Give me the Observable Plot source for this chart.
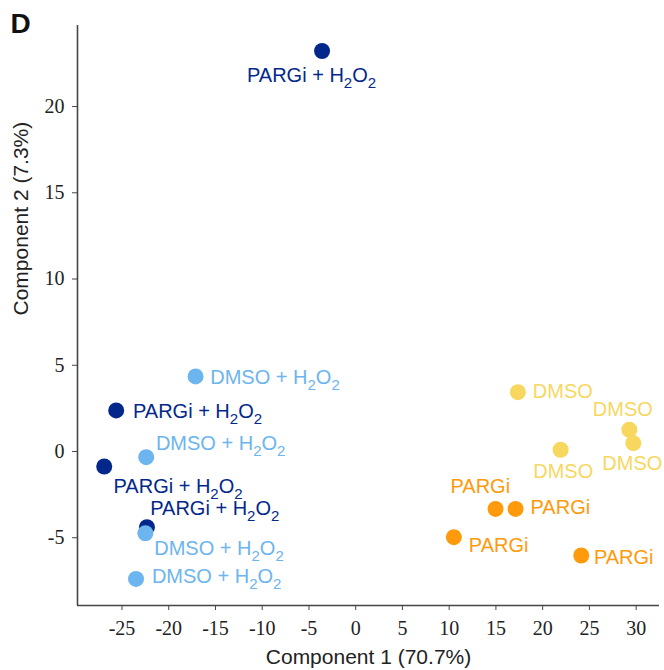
<!DOCTYPE html>
<html>
<head>
<meta charset="utf-8">
<script src="https://cdn.jsdelivr.net/npm/d3@7"></script>
<script src="https://cdn.jsdelivr.net/npm/@observablehq/plot@0.6"></script>
<style>
  html, body { margin: 0; padding: 0; background: #fff; }
  #chart svg { display: block; }
</style>
</head>
<body>
<div id="chart"></div>
<script>
// ---- data ----
const groupNames = ["PARGi + H2O2", "DMSO + H2O2", "DMSO", "PARGi"];
const groupColors = ["#03288A", "#6CB5EE", "#F8D75F", "#FF9A0C"];

const sampleGroup = [
  "PARGi + H2O2", "PARGi + H2O2", "PARGi + H2O2", "PARGi + H2O2",
  "DMSO + H2O2", "DMSO + H2O2", "DMSO + H2O2", "DMSO + H2O2",
  "DMSO", "DMSO", "DMSO", "DMSO",
  "PARGi", "PARGi", "PARGi", "PARGi"
];
const pc1 = [-3.6, -25.62, -26.9, -22.33, -17.13, -22.41, -22.5, -23.5, 17.35, 29.27, 21.92, 29.7, 14.96, 17.1, 10.5, 24.13];
const pc2 = [23.22, 2.38, -0.87, -4.39, 4.35, -0.33, -4.74, -7.39, 3.44, 1.26, 0.1, 0.48, -3.33, -3.33, -4.97, -6.03];
// repelled label anchors (data units)
const labelPc1 = [-11.63, -23.83, -25.91, -21.98, -15.56, -21.37, -21.55, -21.80, 18.95, 25.37, 18.99, 26.38, 10.14, 18.70, 12.10, 25.48];
const labelPc2 = [21.81, 2.33, -2.06, -3.32, 4.27, 0.45, -5.64, -7.27, 3.45, 2.41, -1.19, -0.71, -2.01, -3.23, -5.45, -6.13];

const xDomain = [-29.76, 32.5];
const yDomain = [-8.93, 24.7];
const xTicks = [-25, -20, -15, -10, -5, 0, 5, 10, 15, 20, 25, 30];
const yTicks = [-5, 0, 5, 10, 15, 20];
const xTitle = "Component 1 (70.7%)";
const yTitle = "Component 2 (7.3%)";
const panelLetter = "D";

const rows = sampleGroup.map((g, i) => ({group: g, x: pc1[i], y: pc2[i], lx: labelPc1[i], ly: labelPc2[i]}));

const axisColor = "#454545";
const serif = "Liberation Serif";

const plot = Plot.plot({
  width: 664,
  height: 670,
  marginLeft: 77,
  marginRight: 5,
  marginTop: 25,
  marginBottom: 65,
  style: {fontFamily: "Liberation Sans", background: "#fff"},
  x: {domain: xDomain},
  y: {domain: yDomain},
  color: {domain: groupNames, range: groupColors},
  marks: [
    Plot.axisX(xTicks, {tickSize: 5, tickPadding: 10, fontSize: 20, fontFamily: serif,
      tickFormat: d => String(d), stroke: axisColor, fill: "#222", label: null}),
    Plot.axisY(yTicks, {tickSize: 5, tickPadding: 8, fontSize: 20, fontFamily: serif,
      tickFormat: d => String(d), stroke: axisColor, fill: "#222", label: null}),
    Plot.ruleX([xDomain[0]], {stroke: axisColor, strokeWidth: 1.6}),
    Plot.ruleY([yDomain[0]], {stroke: axisColor, strokeWidth: 1.6}),
    Plot.dot(rows, {x: "x", y: "y", r: 8, fill: "group", stroke: "none"}),
    Plot.text(rows, {x: "lx", y: "ly", text: "group", fill: "group", textAnchor: "start", lineAnchor: "middle",
      fontSize: 20, fontFamily: "Liberation Sans", className: "pt-labels"}),
    Plot.text([xTitle], {frameAnchor: "bottom", dy: 52, fontSize: 21, fill: "#222", lineAnchor: "middle"}),
    Plot.text([yTitle], {frameAnchor: "left", dx: -56, rotate: -90, fontSize: 21, fill: "#222", lineAnchor: "middle"}),
    Plot.text([panelLetter], {frameAnchor: "top-left", dx: -67, dy: -12, textAnchor: "start", lineAnchor: "top",
      fontSize: 28, fontWeight: "bold", fill: "#111"})
  ]
});

// tick labels in serif (numeric texts only)
d3.select(plot).selectAll("text").each(function() {
  if (/^-?[\d.]+$/.test(this.textContent.trim())) {
    this.setAttribute("font-family", serif);
    this.style.fontFamily = serif;
  }
});

// render H2O2 with subscripts
d3.select(plot).selectAll("g.pt-labels text").each(function() {
  const t = this.textContent;
  if (!t.endsWith("H2O2")) return;
  const prefix = t.slice(0, -3); // "... H"
  const el = d3.select(this);
  el.text(null);
  el.append("tspan").text(prefix);
  el.append("tspan").attr("dy", 6).attr("font-size", 15).text("2");
  el.append("tspan").attr("dy", -6).text("O");
  el.append("tspan").attr("dy", 6).attr("font-size", 15).text("2");
});

document.getElementById("chart").appendChild(plot);
</script>
</body>
</html>
